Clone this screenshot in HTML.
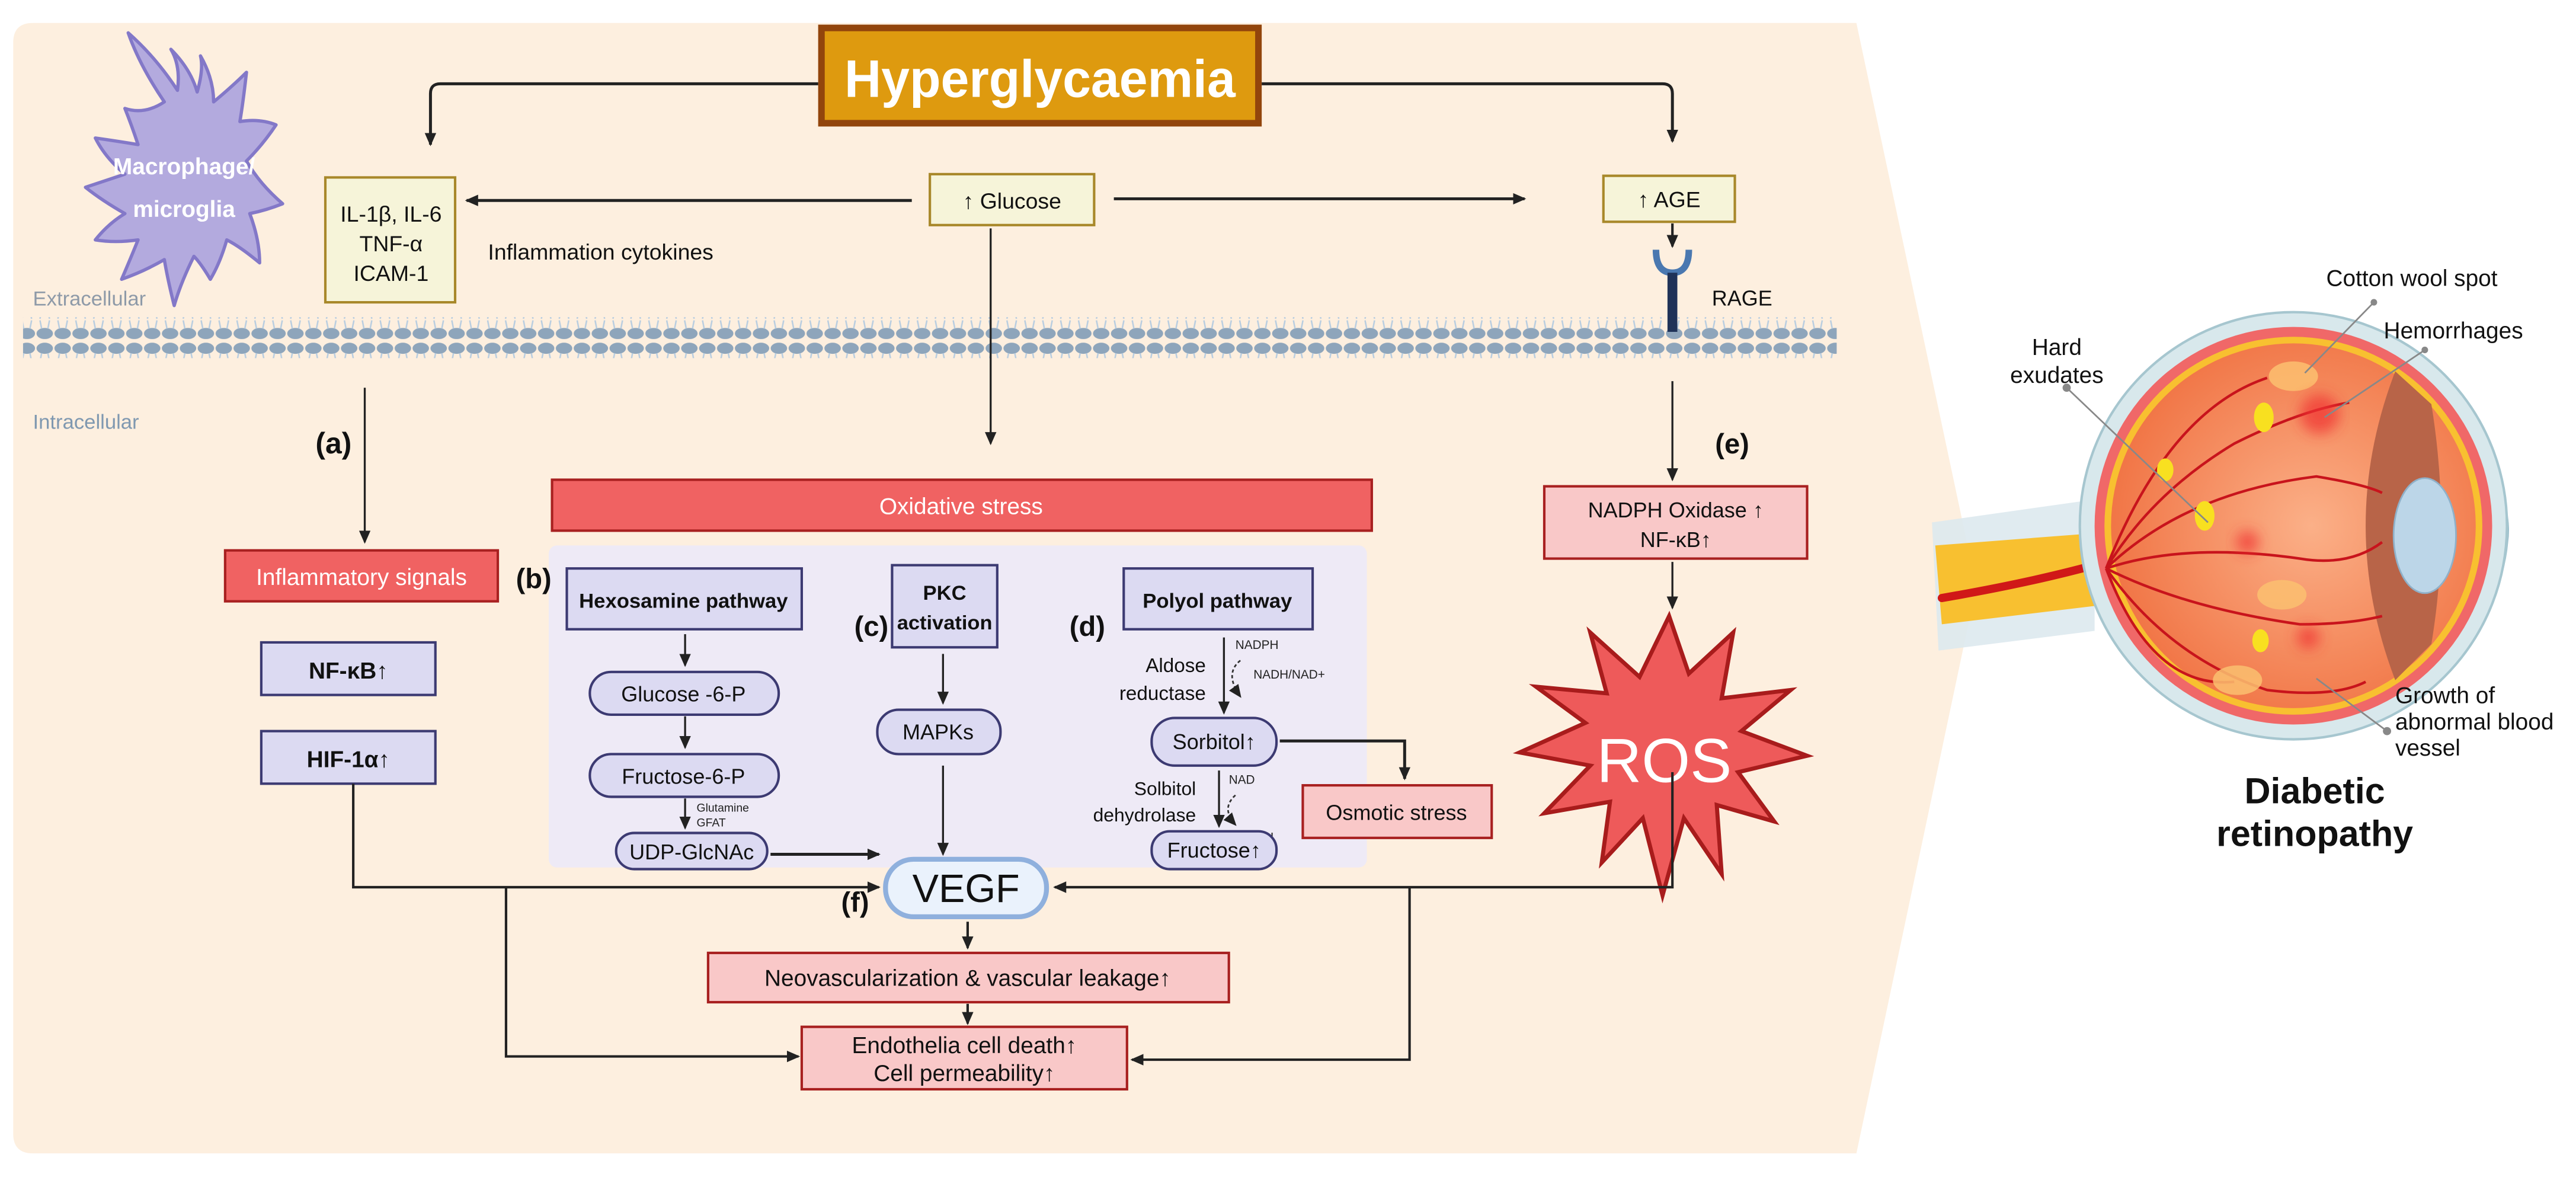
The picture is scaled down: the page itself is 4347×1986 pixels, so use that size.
<!DOCTYPE html>
<html><head><meta charset="utf-8"><style>
html,body{margin:0;padding:0;background:#fff;}
svg{display:block;font-family:"Liberation Sans",sans-serif;}
</style></head><body>
<svg width="4347" height="1986" viewBox="0 0 1568 716.4" xmlns="http://www.w3.org/2000/svg">
<defs>
<marker id="ah" markerWidth="8" markerHeight="8" refX="7" refY="4" orient="auto" markerUnits="userSpaceOnUse"><path d="M0,0.5 L8,4 L0,7.5 Z" fill="#222"/></marker>
<pattern id="mem" width="10.9" height="26" patternUnits="userSpaceOnUse">
<ellipse cx="5.4" cy="4" rx="5" ry="3.4" fill="#8ea5bb"/>
<ellipse cx="5.4" cy="21" rx="5" ry="3.4" fill="#8ea5bb"/>
<path d="M3.5,7 L2.5,12 M7.3,7 L8.3,12 M2.5,13 L3.5,18 M8.3,13 L7.3,18" stroke="#b8cde0" stroke-width="0.9" fill="none"/>
</pattern>
<radialGradient id="ret" cx="0.55" cy="0.5" r="0.6"><stop offset="0" stop-color="#fbb088"/><stop offset="1" stop-color="#f07040"/></radialGradient>
<filter id="bl"><feGaussianBlur stdDeviation="4"/></filter>
</defs>

<path d="M20,14 L1130,14 L1203,357 L1130,702 L20,702 Q8,702 8,690 L8,26 Q8,14 20,14 Z" fill="#fdefdf"/>

<rect x="14" y="193" width="1104" height="25" fill="url(#mem)"/>
<text x="20" y="186" font-size="12.5" fill="#8e9aa8">Extracellular</text>
<text x="20" y="261" font-size="12.5" fill="#7f98b0">Intracellular</text>

<!-- macrophage -->
<path d="M100,62 Q85,40 78,20 Q95,35 108,55 Q110,40 104,30 Q116,42 120,56 Q124,42 122,34 Q130,48 130,62 Q142,52 150,44 Q148,62 146,74 Q158,72 168,76 Q160,88 150,98 Q158,112 172,124 Q162,128 152,130 Q158,146 158,160 Q146,150 138,146 Q134,160 128,170 Q122,160 118,156 Q110,172 106,186 Q102,170 100,158 Q88,165 74,170 Q80,156 84,146 Q70,148 58,146 Q66,136 76,130 Q62,122 52,114 Q64,110 76,106 Q64,96 58,84 Q72,86 84,88 Q80,76 76,66 Q88,70 100,62 Z" fill="#b3aade" stroke="#8378c8" stroke-width="2" stroke-linejoin="round"/>
<text x="112" y="106" font-size="14" font-weight="bold" fill="#fff" text-anchor="middle">Macrophage/</text>
<text x="112" y="132" font-size="14" font-weight="bold" fill="#fff" text-anchor="middle">microglia</text>

<rect x="500" y="17" width="266" height="58" fill="#de9a0f" stroke="#92450c" stroke-width="4"/>
<text x="633" y="59" font-size="32" font-weight="bold" fill="#fff" text-anchor="middle" textLength="238" lengthAdjust="spacingAndGlyphs">Hyperglycaemia</text>
<path d="M498,51 L268,51 Q262,51 262,57 L262,88" stroke="#222" stroke-width="1.8" fill="none" marker-end="url(#ah)"/>
<path d="M768,51 L1012,51 Q1018,51 1018,57 L1018,86" stroke="#222" stroke-width="1.8" fill="none" marker-end="url(#ah)"/>

<rect x="198" y="108" width="79" height="76" fill="#f6f4d9" stroke="#a8882a" stroke-width="1.5"/>
<text font-size="13.5" fill="#111" text-anchor="middle"><tspan x="238" y="135">IL-1β, IL-6</tspan><tspan x="238" y="153">TNF-α</tspan><tspan x="238" y="171">ICAM-1</tspan></text>
<text x="297" y="158" font-size="13.5" fill="#111">Inflammation cytokines</text>

<rect x="566" y="106" width="100" height="31" fill="#f6f4d9" stroke="#a8882a" stroke-width="1.5"/>
<text x="616" y="127" font-size="13.5" fill="#111" text-anchor="middle">↑ Glucose</text>
<path d="M555,122 L284,122" stroke="#222" stroke-width="1.8" marker-end="url(#ah)"/>
<path d="M678,121 L928,121" stroke="#222" stroke-width="1.8" marker-end="url(#ah)"/>
<path d="M603,139 L603,270" stroke="#222" stroke-width="1.2" marker-end="url(#ah)"/>

<rect x="976" y="107" width="80" height="28" fill="#f6f4d9" stroke="#a8882a" stroke-width="1.5"/>
<text x="1016" y="126" font-size="13.5" fill="#111" text-anchor="middle">↑ AGE</text>
<path d="M1018,136 L1018,150" stroke="#222" stroke-width="1.5" marker-end="url(#ah)"/>
<path d="M1008,152 Q1008,166 1018,166 Q1028,166 1028,152" stroke="#4a78b0" stroke-width="4" fill="none"/>
<rect x="1015" y="166" width="6" height="36" fill="#1f3258"/>
<text x="1042" y="186" font-size="13" fill="#111">RAGE</text>

<path d="M222,236 L222,330" stroke="#222" stroke-width="1.2" marker-end="url(#ah)"/>
<text x="192" y="276" font-size="18" font-weight="bold" fill="#111">(a)</text>
<rect x="137" y="335" width="166" height="31" fill="#f06262" stroke="#a82020" stroke-width="1.5"/>
<text x="220" y="356" font-size="14" fill="#fff" text-anchor="middle">Inflammatory signals</text>
<rect x="159" y="391" width="106" height="32" fill="#dcdaf2" stroke="#3c3a72" stroke-width="1.5"/>
<text x="212" y="413" font-size="14" font-weight="bold" fill="#111" text-anchor="middle">NF-κB↑</text>
<rect x="159" y="445" width="106" height="32" fill="#dcdaf2" stroke="#3c3a72" stroke-width="1.5"/>
<text x="212" y="467" font-size="14" font-weight="bold" fill="#111" text-anchor="middle">HIF-1α↑</text>

<rect x="336" y="292" width="499" height="31" fill="#f06262" stroke="#a82020" stroke-width="1.5"/>
<text x="585" y="313" font-size="14" fill="#fff" text-anchor="middle">Oxidative stress</text>

<rect x="334" y="332" width="498" height="196" rx="5" fill="#eeeaf6"/>
<text x="314" y="358" font-size="17" font-weight="bold" fill="#111">(b)</text>
<text x="520" y="387" font-size="17" font-weight="bold" fill="#111">(c)</text>
<text x="651" y="387" font-size="17" font-weight="bold" fill="#111">(d)</text>

<rect x="345" y="346" width="143" height="37" fill="#dcdaf2" stroke="#3c3a72" stroke-width="1.5"/>
<text x="416" y="370" font-size="12.5" font-weight="bold" fill="#111" text-anchor="middle">Hexosamine pathway</text>
<path d="M417,386 L417,405" stroke="#222" stroke-width="1.2" marker-end="url(#ah)"/>
<rect x="359" y="409" width="115" height="26" rx="13" fill="#dcdaf2" stroke="#3c3a72" stroke-width="1.5"/>
<text x="416" y="427" font-size="13" fill="#111" text-anchor="middle">Glucose -6-P</text>
<path d="M417,436 L417,455" stroke="#222" stroke-width="1.2" marker-end="url(#ah)"/>
<rect x="359" y="459" width="115" height="26" rx="13" fill="#dcdaf2" stroke="#3c3a72" stroke-width="1.5"/>
<text x="416" y="477" font-size="13" fill="#111" text-anchor="middle">Fructose-6-P</text>
<path d="M417,486 L417,504" stroke="#222" stroke-width="1.2" marker-end="url(#ah)"/>
<text x="424" y="494" font-size="7" fill="#222">Glutamine</text>
<text x="424" y="503" font-size="7" fill="#222">GFAT</text>
<rect x="375" y="507" width="92" height="22" rx="11" fill="#dcdaf2" stroke="#3c3a72" stroke-width="1.5"/>
<text x="421" y="523" font-size="13" fill="#111" text-anchor="middle">UDP-GlcNAc</text>
<path d="M469,520 L535,520" stroke="#222" stroke-width="1.8" marker-end="url(#ah)"/>

<rect x="543" y="344" width="64" height="50" fill="#dcdaf2" stroke="#3c3a72" stroke-width="1.5"/>
<text x="575" y="365" font-size="12.5" font-weight="bold" fill="#111" text-anchor="middle">PKC</text>
<text x="575" y="383" font-size="12" font-weight="bold" fill="#111" text-anchor="middle" textLength="58" lengthAdjust="spacingAndGlyphs">activation</text>
<path d="M574,398 L574,428" stroke="#222" stroke-width="1.2" marker-end="url(#ah)"/>
<rect x="534" y="432" width="75" height="27" rx="13" fill="#dcdaf2" stroke="#3c3a72" stroke-width="1.5"/>
<text x="571" y="450" font-size="13" fill="#111" text-anchor="middle">MAPKs</text>
<path d="M574,466 L574,520" stroke="#222" stroke-width="1.2" marker-end="url(#ah)"/>

<rect x="684" y="346" width="115" height="37" fill="#dcdaf2" stroke="#3c3a72" stroke-width="1.5"/>
<text x="741" y="370" font-size="12.5" font-weight="bold" fill="#111" text-anchor="middle">Polyol pathway</text>
<text x="752" y="395" font-size="7.5" fill="#222">NADPH</text>
<text x="734" y="409" font-size="12" fill="#111" text-anchor="end">Aldose</text>
<text x="734" y="426" font-size="12" fill="#111" text-anchor="end">reductase</text>
<path d="M745,388 L745,434" stroke="#222" stroke-width="1.2" marker-end="url(#ah)"/>
<path d="M755,402 Q745,410 755,424" stroke="#333" stroke-width="1" stroke-dasharray="2,1.5" fill="none" marker-end="url(#ah)"/>
<text x="763" y="413" font-size="7.5" fill="#222">NADH/NAD+</text>
<rect x="701" y="437" width="76" height="29" rx="14" fill="#dcdaf2" stroke="#3c3a72" stroke-width="1.5"/>
<text x="739" y="456" font-size="13" fill="#111" text-anchor="middle">Sorbitol↑</text>
<path d="M779,451 L855,451 L855,474" stroke="#222" stroke-width="1.8" fill="none" marker-end="url(#ah)"/>
<rect x="793" y="478" width="115" height="32" fill="#f9c8c8" stroke="#a82020" stroke-width="1.5"/>
<text x="850" y="499" font-size="13" fill="#111" text-anchor="middle">Osmotic stress</text>
<text x="748" y="477" font-size="7.5" fill="#222">NAD</text>
<path d="M742,469 L742,503" stroke="#222" stroke-width="1.2" marker-end="url(#ah)"/>
<path d="M752,484 Q743,492 752,502" stroke="#333" stroke-width="1" stroke-dasharray="2,1.5" fill="none" marker-end="url(#ah)"/>
<text x="728" y="484" font-size="11.5" fill="#111" text-anchor="end">Solbitol</text>
<text x="728" y="500" font-size="11.5" fill="#111" text-anchor="end">dehydrolase</text>
<text x="754" y="512" font-size="7.5" fill="#222">NADH</text>
<rect x="701" y="506" width="76" height="23" rx="11" fill="#dcdaf2" stroke="#3c3a72" stroke-width="1.5"/>
<text x="739" y="522" font-size="13" fill="#111" text-anchor="middle">Fructose↑</text>

<path d="M1018,232 L1018,292" stroke="#222" stroke-width="1.2" marker-end="url(#ah)"/>
<text x="1044" y="276" font-size="17" font-weight="bold" fill="#111">(e)</text>
<rect x="940" y="296" width="160" height="44" fill="#f9c8c8" stroke="#a82020" stroke-width="1.5"/>
<text x="1020" y="315" font-size="13" fill="#111" text-anchor="middle">NADPH Oxidase ↑</text>
<text x="1020" y="333" font-size="13" fill="#111" text-anchor="middle">NF-κB↑</text>
<path d="M1018,342 L1018,370" stroke="#222" stroke-width="1.2" marker-end="url(#ah)"/>
<path d="M1016,375 L1028,410 L1055,385 L1048,425 L1090,420 L1060,445 L1100,460 L1058,470 L1080,500 L1045,490 L1048,532 L1025,498 L1012,545 L1000,498 L975,525 L980,488 L940,495 L968,466 L925,458 L965,440 L935,418 L978,422 L968,385 L998,412 Z" fill="#ee5a5a" stroke="#a81c1c" stroke-width="2.5"/>
<text x="1013" y="476" font-size="38" fill="#fff" text-anchor="middle">ROS</text>

<path d="M215,477 L215,540 L535,540" stroke="#222" stroke-width="1.5" fill="none" marker-end="url(#ah)"/>
<path d="M1018,470 L1018,540 L642,540" stroke="#222" stroke-width="1.5" fill="none" marker-end="url(#ah)"/>
<path d="M308,540 L308,643 L486,643" stroke="#222" stroke-width="1.5" fill="none" marker-end="url(#ah)"/>
<path d="M858,540 L858,645 L689,645" stroke="#222" stroke-width="1.5" fill="none" marker-end="url(#ah)"/>
<rect x="539" y="523" width="98" height="35" rx="17" fill="#eaf2fc" stroke="#8fb0dd" stroke-width="3"/>
<text x="588" y="549" font-size="24" fill="#111" text-anchor="middle">VEGF</text>
<text x="512" y="555" font-size="17" font-weight="bold" fill="#111">(f)</text>
<path d="M589,561 L589,577" stroke="#222" stroke-width="1.5" marker-end="url(#ah)"/>
<rect x="431" y="580" width="317" height="30" fill="#f9c8c8" stroke="#a82020" stroke-width="1.5"/>
<text x="589" y="600" font-size="14" fill="#111" text-anchor="middle">Neovascularization  &amp; vascular leakage↑</text>
<path d="M589,611 L589,623" stroke="#222" stroke-width="1.5" marker-end="url(#ah)"/>
<rect x="488" y="625" width="198" height="38" fill="#f9c8c8" stroke="#a82020" stroke-width="1.5"/>
<text x="587" y="641" font-size="14" fill="#111" text-anchor="middle">Endothelia cell death↑</text>
<text x="587" y="658" font-size="14" fill="#111" text-anchor="middle">Cell permeability↑</text>

<!-- eye -->
<path d="M1176,318 L1275,304 L1275,384 L1180,396 Z" fill="#dde9ee" opacity="0.9"/>
<path d="M1178,332 L1282,324 L1282,368 L1182,380 Z" fill="#f8c030"/>
<path d="M1182,364 Q1240,354 1282,342" stroke="#d01818" stroke-width="5" fill="none" stroke-linecap="round"/>
<path d="M1470,230 Q1532,290 1526,330 Q1522,378 1470,414 Z" fill="#d8e8ee" stroke="#9cc0cc" stroke-width="1.5"/>
<path d="M1478,244 Q1516,290 1514,330 Q1512,372 1478,402 Z" fill="#3c8aaa"/>
<circle cx="1396" cy="320" r="130" fill="#d8e8ec" stroke="#a6c6cf" stroke-width="1.5"/>
<circle cx="1396" cy="320" r="121" fill="#f06868"/>
<circle cx="1396" cy="320" r="115" fill="#f8c030"/>
<circle cx="1396" cy="320" r="111" fill="url(#ret)"/>
<path d="M1458,226 Q1422,320 1458,414 L1480,392 Q1492,320 1480,246 Z" fill="#b86448"/>
<ellipse cx="1476" cy="326" rx="19" ry="35" fill="#bcd6e8" stroke="#8fb0c8" stroke-width="1"/>
<g stroke="#c8141c" stroke-width="1.6" fill="none">
<path d="M1282,346 Q1310,300 1360,270 Q1400,250 1430,245"/>
<path d="M1282,346 Q1320,250 1380,230"/>
<path d="M1282,346 Q1330,300 1410,290 Q1440,295 1450,300"/>
<path d="M1282,346 Q1330,330 1400,340 Q1430,345 1450,330"/>
<path d="M1282,346 Q1330,370 1400,380 Q1430,380 1450,375"/>
<path d="M1282,346 Q1320,400 1380,420 Q1420,425 1440,415"/>
<path d="M1282,346 Q1310,420 1360,415"/>
</g>
<g fill="#f8e020">
<ellipse cx="1342" cy="314" rx="6" ry="9"/><ellipse cx="1318" cy="286" rx="5" ry="7"/>
<ellipse cx="1378" cy="254" rx="6" ry="9"/><ellipse cx="1376" cy="390" rx="5" ry="7"/>
</g>
<g fill="#fbc070" opacity="0.85"><ellipse cx="1396" cy="229" rx="15" ry="9"/><ellipse cx="1389" cy="362" rx="15" ry="9"/><ellipse cx="1362" cy="414" rx="15" ry="9"/></g>
<g fill="#f03030" filter="url(#bl)" opacity="0.7"><circle cx="1412" cy="252" r="12"/><circle cx="1368" cy="330" r="7"/><circle cx="1405" cy="388" r="7"/></g>
<g stroke="#888" stroke-width="1">
<path d="M1445,184 L1403,227"/><path d="M1476,213 L1415,254"/><path d="M1258,236 L1344,318"/><path d="M1453,445 L1410,413"/>
</g>
<g fill="#888"><circle cx="1445" cy="184" r="2"/><circle cx="1476" cy="213" r="2"/><circle cx="1258" cy="236" r="2.5"/><circle cx="1453" cy="445" r="2.5"/></g>
<g font-size="14" fill="#111">
<text x="1416" y="174">Cotton wool spot</text>
<text x="1451" y="206">Hemorrhages</text>
<text x="1252" y="216" text-anchor="middle">Hard</text>
<text x="1252" y="233" text-anchor="middle">exudates</text>
<text x="1458" y="428">Growth of</text>
<text x="1458" y="444">abnormal blood</text>
<text x="1458" y="460">vessel</text>
</g>
<text x="1409" y="489" font-size="22" font-weight="bold" fill="#111" text-anchor="middle">Diabetic</text>
<text x="1409" y="515" font-size="22" font-weight="bold" fill="#111" text-anchor="middle">retinopathy</text>
</svg>
</body></html>
